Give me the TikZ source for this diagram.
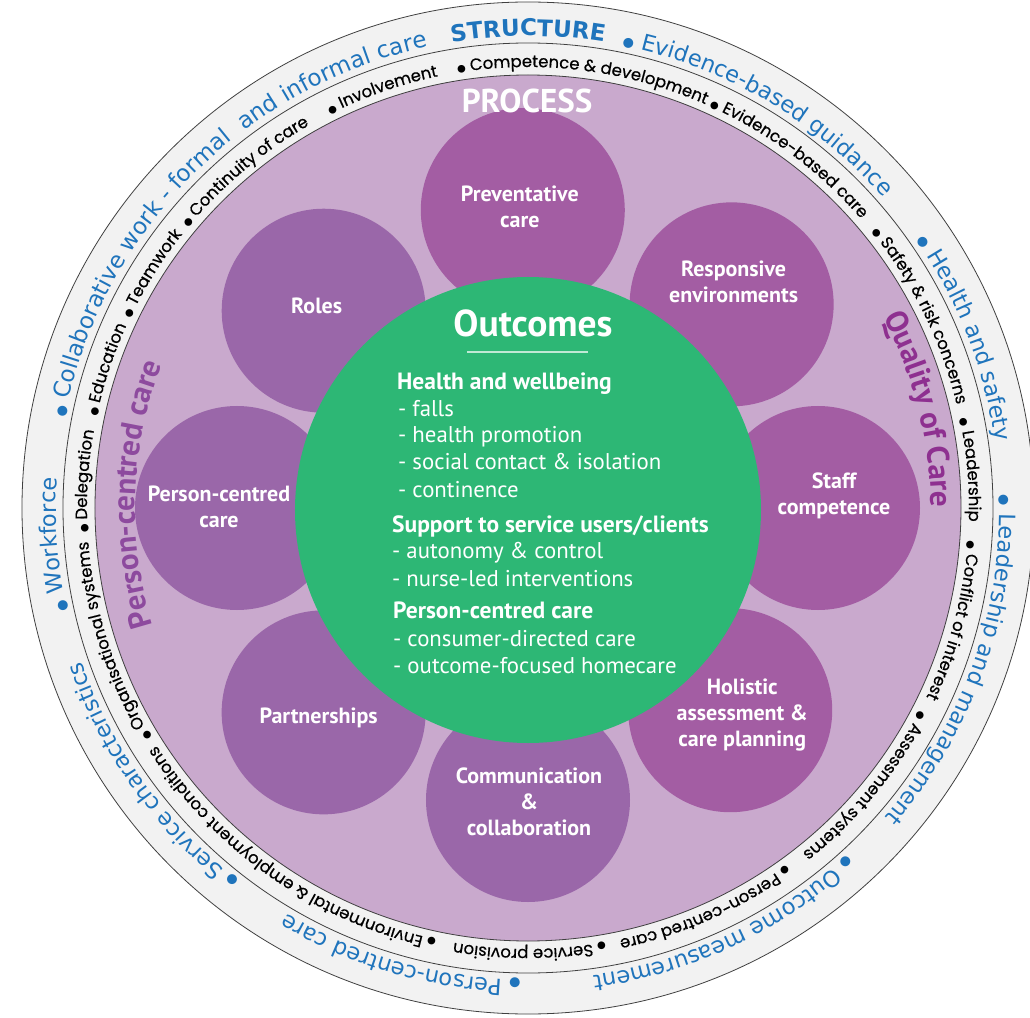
\documentclass[tikz,border=0pt]{standalone}
\usepackage{fontspec}
\setmainfont{PT Sans}
\newfontfamily\ringfont{DejaVu Sans}
\newfontfamily\itemfont[FakeBold=0.5]{Poppins}
\usepackage{tikz}
\usetikzlibrary{decorations.text, positioning}
\usepackage{xcolor}

\definecolor{ringgray}{HTML}{F2F2F2}
\definecolor{processbg}{HTML}{C9A9CD}
\definecolor{petalpink}{HTML}{A35DA3}
\definecolor{petalviolet}{HTML}{9A67A9}
\definecolor{outcomegreen}{HTML}{2DB775}
\definecolor{structblue}{HTML}{1F74BC}
\definecolor{pccpurple}{HTML}{8D4A9E}
\definecolor{qocpurple}{HTML}{8E3090}

\newcommand{\outerdot}{\ringfont\fontsize{13}{13}\selectfont ●}
\newcommand{\innerdot}{\ringfont\fontsize{10}{10}\selectfont ●}

\tikzset{
    ringline/.style={draw=black!75, line width=0.8pt},
    petal/.style={circle, minimum size=204pt, inner sep=0pt},
    petaltext/.style={text=white, align=center, inner sep=0pt, font=\fontsize{22}{26}\selectfont\bfseries},
    listline/.style={anchor=base west, inner sep=0pt, text=white, font=\fontsize{22.8}{26}\selectfont},
    listhead/.style={listline, font=\fontsize{23.5}{26}\selectfont\bfseries},
    outerring/.style={decorate, decoration={text along path, text color=structblue,
        text={|\ringfont\fontsize{22.5}{26}\selectfont|#1}}},
    innerring/.style={decorate, decoration={text along path, text color=black,
        text={|\itemfont\fontsize{16.5}{19}\selectfont|#1}}},
}

\begin{document}
\begin{tikzpicture}[x=1pt, y=1pt]
    % Fix the frame of the picture
    \useasboundingbox (-528,-509) rectangle (502,508);

    % Draw the structure and process rings
    \fill[ringgray] (0,0) circle[radius=506];
    \draw[ringline] (0,0) circle[radius=506];
    \draw[ringline] (0,0) circle[radius=465];
    \fill[processbg] (0,0) circle[radius=433];
    \draw[ringline] (0,0) circle[radius=433];

    % Draw the petals of the process
    \foreach \ang/\dist/\name/\col/\dx/\dy/\txt in {
        91/298/Preventative/petalpink/-3/3/{Preventative\\care},
        45/288/Responsive/petalpink/2/23/{Responsive\\environments},
        0/290/Staff/petalpink/16/12/{Staff\\competence},
        -45/286/Holistic/petalpink/12/-5/{Holistic\\assessment \&\\care planning},
        -90/292/Communication/petalviolet/1/-2/{Communication\\\&\\collaboration},
        -135/289/Partnerships/petalviolet/-5/-6/{Partnerships},
        180/291/PersonCentred/petalviolet/-18/1/{Person-centred\\care},
        136/284/Roles/petalviolet/-7/5/{Roles}}
    {
        \node[petal, fill=\col] (\name) at (\ang:\dist) {};
        \node[petaltext] (\name-txt) at ([shift={(\dx,\dy)}]\name.center) {\txt};
    }

    % Draw the outcomes circle
    \node[circle, fill=outcomegreen, minimum size=466pt, inner sep=0pt] (Centre) at (0,-2) {};
    \node[anchor=base, inner sep=0pt, text=white, font=\fontsize{37.5}{40}\selectfont\bfseries] (Outcomes) at (5,171) {Outcomes};
    \coordinate (RuleL) at (-61,156);
    \coordinate (RuleR) at (60,156);
    \draw[white, opacity=0.7, line width=1.2pt] (RuleL) -- (RuleR);

    % Outcome lists
    \foreach \x/\y/\sty/\txt [count=\i] in {
        -131/118/listhead/{Health and wellbeing},
        -130/91/listline/{- falls},
        -130/65/listline/{- health promotion},
        -130/38/listline/{- social contact \& isolation},
        -130/11/listline/{- continence},
        -136/-24/listhead/{Support to service users/clients},
        -136/-50/listline/{- autonomy \& control},
        -136/-78/listline/{- nurse-led interventions},
        -135/-110/listhead/{Person-centred care},
        -135/-138/listline/{- consumer-directed care},
        -135/-165/listline/{- outcome-focused homecare}}
        \node[\sty] (Line\i) at (\x,\y) {\txt};

    % Labels of the process ring
    \node[anchor=base, inner sep=0pt, text=white, font=\fontsize{33}{38}\selectfont\bfseries] (Process) at (-1,395) {PROCESS};
    \path[decorate, decoration={text along path, text align=center, text color=pccpurple,
        text={|\fontsize{31}{34}\selectfont\bfseries|Person-centred care}}]
        (208:393) arc[start angle=208, end angle=148, radius=393];
    \path[decorate, decoration={text along path, text align=center, text color=qocpurple,
        text={|\fontsize{31}{34}\selectfont\bfseries|Quality of Care}}]
        (44.2:403) arc[start angle=44.2, end angle=-15.8, radius=403];

    % Outer ring: structure
    \path[decorate, decoration={text along path, text align=center, text color=structblue,
        text={|\ringfont\bfseries\fontsize{23}{26}\selectfont|STRUCTURE}}]
        (105:472) arc[start angle=105, end angle=75, radius=472];
    \path[outerring={{\outerdot} Evidence-based guidance}] (78.5:472) arc[start angle=78.5, end angle=18.5, radius=472];
    \path[outerring={{\outerdot} Health and safety}] (34.6:472) arc[start angle=34.6, end angle=-25.4, radius=472];
    \path[outerring={{\outerdot} Leadership and management}] (1.6:472) arc[start angle=1.6, end angle=-58.4, radius=472];
    \path[outerring={{\outerdot} Outcome measurement}] (-47.4:472) arc[start angle=-47.4, end angle=-107.4, radius=472];
    \path[outerring={{\outerdot} Person-centred care}] (-90.9:472) arc[start angle=-90.9, end angle=-150.9, radius=472];
    \path[outerring={{\outerdot} Service characteristics}] (-127.8:472) arc[start angle=-127.8, end angle=-187.8, radius=472];
    \path[outerring={{\outerdot} Workforce}] (192.6:472) arc[start angle=192.6, end angle=132.6, radius=472];
    \path[decorate, decoration={text along path, text color=structblue,
        text={|\ringfont\fontsize{23}{26}\selectfont|{\outerdot} Collaborative work - formal{\ }{\ }and informal care}}]
        (169:472) arc[start angle=169, end angle=89, radius=472];

    % Inner ring: process items
    \path[innerring={{\innerdot} Competence {\&} development}] (99.2:441) arc[start angle=99.2, end angle=39.2, radius=441];
    \path[innerring={{\innerdot} Evidence-based care}] (65.7:441) arc[start angle=65.7, end angle=5.7, radius=441];
    \path[innerring={{\innerdot} Safety {\&} risk concerns}] (38.8:441) arc[start angle=38.8, end angle=-21.2, radius=441];
    \path[innerring={{\innerdot} Leadership}] (11.7:441) arc[start angle=11.7, end angle=-38.3, radius=441];
    \path[innerring={{\innerdot} Conflict of interest}] (-4.2:441) arc[start angle=-4.2, end angle=-64.2, radius=441];
    \path[innerring={{\innerdot} Assessment systems}] (-27.4:441) arc[start angle=-27.4, end angle=-87.4, radius=441];
    \path[innerring={{\innerdot} Person-centred care}] (-54.1:441) arc[start angle=-54.1, end angle=-114.1, radius=441];
    \path[innerring={{\innerdot} Service provision}] (-79.9:441) arc[start angle=-79.9, end angle=-139.9, radius=441];
    \path[innerring={{\innerdot} Environmental {\&} employment conditions}] (-102:441) arc[start angle=-102, end angle=-167, radius=441];
    \path[innerring={{\innerdot} Organisational systems}] (-148.6:441) arc[start angle=-148.6, end angle=-208.6, radius=441];
    \path[innerring={{\innerdot} Delegation}] (183.2:441) arc[start angle=183.2, end angle=133.2, radius=441];
    \path[innerring={{\innerdot} Education}] (168:441) arc[start angle=168, end angle=118, radius=441];
    \path[innerring={{\innerdot} Teamwork}] (154.5:441) arc[start angle=154.5, end angle=104.5, radius=441];
    \path[innerring={{\innerdot} Continuity of care}] (140.5:441) arc[start angle=140.5, end angle=80.5, radius=441];
    \path[innerring={{\innerdot} Involvement}] (116.7:441) arc[start angle=116.7, end angle=66.7, radius=441];
\end{tikzpicture}
\end{document}
